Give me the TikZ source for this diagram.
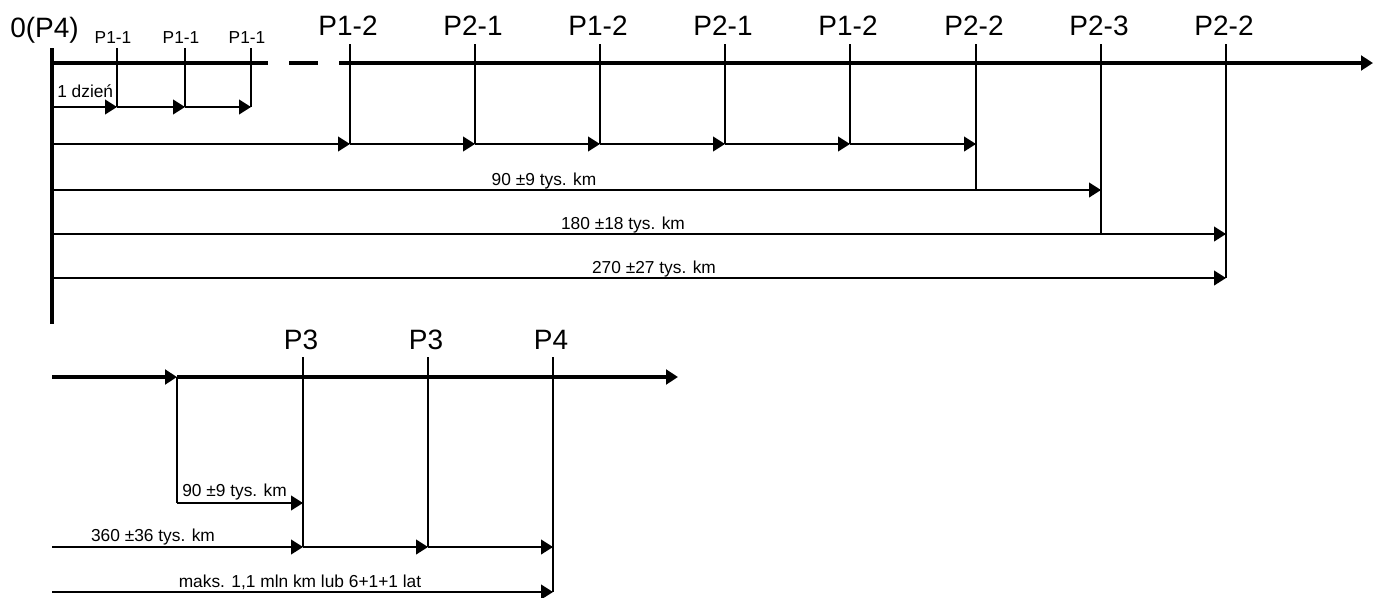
\documentclass[tikz,border=0pt]{standalone}
\usepackage{fontspec}
\setmainfont{Liberation Sans}
\usetikzlibrary{arrows.meta,positioning,calc}

\begin{document}
\begin{tikzpicture}[
        x=0.75pt, y=-0.75pt,
        axis/.style={line width=2.3pt, -{Triangle[length=9pt,width=11pt]}},
        zero/.style={line width=2.3pt},
        tick/.style={line width=1.3pt},
        span/.style={line width=1.5pt, -{Triangle[length=9pt,width=11pt]}},
        big/.style={font=\fontsize{21}{25}\selectfont, inner sep=0pt, anchor=base},
        small/.style={font=\fontsize{13}{15}\selectfont, inner sep=0pt, anchor=base},
    ]
    \useasboundingbox (0,0) rectangle (1374,597);
    % upper axis
    \coordinate (O) at (52,48);
    \coordinate (Oend) at (52,324);
    \draw[zero] (O) -- (Oend);
    \coordinate (A0) at (52,63);
    \coordinate (A1) at (268,63);
    \coordinate (A2) at (289,63);
    \coordinate (A3) at (318,63);
    \coordinate (A4) at (339,63);
    \coordinate (Aend) at (1373,63);
    \draw[zero] (A0) -- (A1) (A2) -- (A3);
    \draw[axis] (A4) -- (Aend);
    \node[big,anchor=base west] (start) at (10,37) {0(P4)};

    % P1-1, every day
    \coordinate (d0) at (52,107);
    \foreach \x [count=\i] in {117,185,251} {
        \node[small] (pa\i) at (\x-4,43) {P1-1};
        \coordinate (d\i) at (\x,107);
        \draw[tick] (\x,48) -- (d\i);
    }
    \foreach \a/\b in {0/1,1/2,2/3}
        \draw[span] (d\a) -- (d\b);
    \node[small,anchor=base west] (day) at (57,97) {1 dzień};

    % P1-2, P2-x
    \foreach \x/\t/\y [count=\i] in {350/P1-2/144, 475/P2-1/144, 600/P1-2/144,
            725/P2-1/144, 850/P1-2/144, 976/P2-2/190, 1101/P2-3/234, 1226/P2-2/278} {
        \node[big] (lab\i) at (\x-2,35) {\t};
        \coordinate (top\i) at (\x,44);
        \coordinate (bot\i) at (\x,\y);
        \draw[tick] (top\i) -- (bot\i);
    }
    \coordinate (e0) at (52,144);
    \draw[span] (e0) -- (bot1);
    \foreach \a/\b in {1/2,2/3,3/4,4/5}
        \draw[span] (bot\a) -- (bot\b);
    \draw[span] (bot5) -- (bot5 -| bot6);
    \coordinate (f0) at (52,190);
    \draw[span] (f0) -- (f0 -| bot7);
    \coordinate (g0) at (52,234);
    \draw[span] (g0) -- (g0 -| bot8);
    \coordinate (h0) at (52,278);
    \draw[span] (h0) -- (bot8);
    \node[small] (km90) at (544,185) {90 ±9 tys. km};
    \node[small] (km180) at (623,229) {180 ±18 tys. km};
    \node[small] (km270) at (654,273) {270 ±27 tys. km};

    % lower axis
    \coordinate (B0) at (52,377);
    \coordinate (B1) at (177,377);
    \coordinate (Bend) at (678,377);
    \draw[axis] (B0) -- (B1);
    \draw[axis] (B1) -- (Bend);
    \coordinate (B2) at (177,503);
    \draw[tick] (B1) -- (B2);
    \foreach \x/\t/\y [count=\i] in {303/P3/547, 428/P3/547, 553/P4/592} {
        \node[big] (lp\i) at (\x-2,349) {\t};
        \coordinate (q\i) at (\x,357);
        \coordinate (r\i) at (\x,\y);
        \draw[tick] (q\i) -- (r\i);
    }
    \draw[span] (B2) -- (B2 -| r1);
    \coordinate (k0) at (52,547);
    \draw[span] (k0) -- (r1);
    \draw[span] (r1) -- (r2);
    \draw[span] (r2) -- (r2 -| r3);
    \coordinate (m0) at (52,592);
    \draw[span] (m0) -- (r3);
    \node[small,anchor=base west] (km90b) at (182,496) {90 ±9 tys. km};
    \node[small] (km360) at (153,541) {360 ±36 tys. km};
    \node[small] (maks) at (300,587) {maks. 1,1 mln km lub 6+1+1 lat};
\end{tikzpicture}
\end{document}
